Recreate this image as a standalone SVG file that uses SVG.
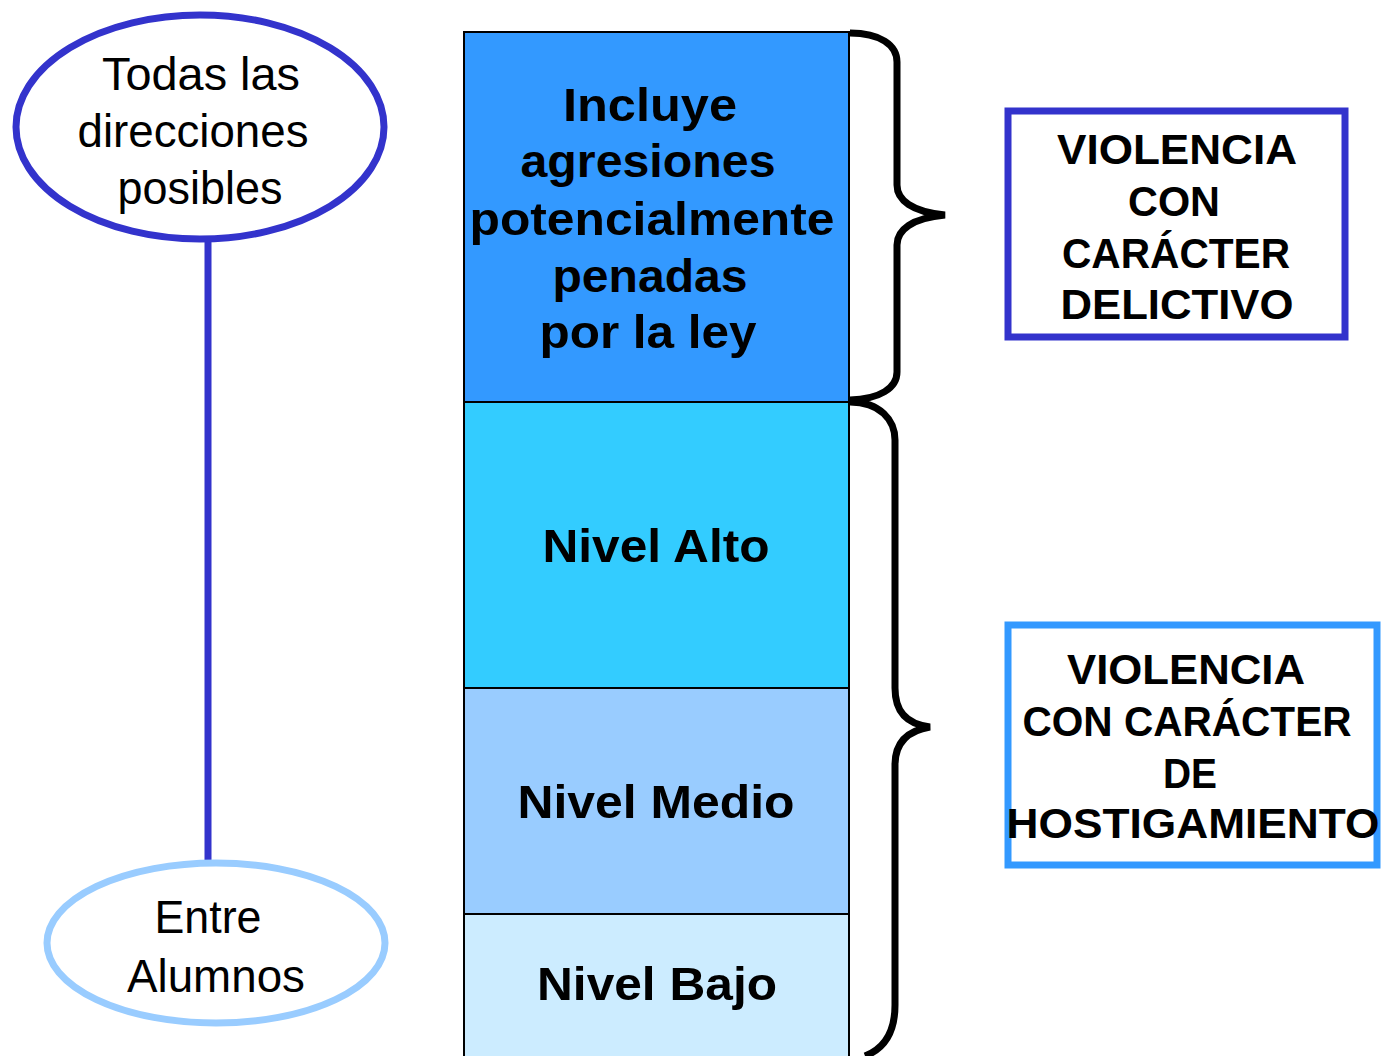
<svg xmlns="http://www.w3.org/2000/svg" width="1383" height="1056" viewBox="0 0 1383 1056">
<style>
.r{font-family:"Liberation Sans",Arial,sans-serif;font-size:46px;fill:#000;text-anchor:middle}
.b{font-family:"Liberation Sans",Arial,sans-serif;font-weight:bold;font-size:47px;fill:#000;text-anchor:middle}
.c{font-family:"Liberation Sans",Arial,sans-serif;font-weight:bold;font-size:42px;fill:#000;text-anchor:middle}
.lvl{stroke:#000;stroke-width:2}
.brace{fill:none;stroke:#000;stroke-width:7}
</style>
<rect width="1383" height="1056" fill="#fff"/>
<g id="connectors">
<line x1="208" y1="238" x2="208" y2="864" stroke="#3333CC" stroke-width="7"/>
<path class="brace" d="M 850 33 C 880 33, 897 45, 897 62 L 897 185 C 897 200, 912 212, 945 215 C 912 218, 897 230, 897 245 L 897 372 C 897 388, 880 399, 850 400"/>
<path class="brace" d="M 850 402 C 880 402, 895 420, 895 440 L 895 688 C 895 710, 905 724, 930 727 C 905 731, 895 745, 895 765 L 895 1005 C 895 1030, 886 1048, 865 1056"/>
</g>
<g id="node-todas">
<ellipse cx="200" cy="127" rx="184" ry="112" fill="#fff" stroke="#3333CC" stroke-width="7"/>
<text class="r" x="201" y="90" textLength="198" lengthAdjust="spacingAndGlyphs">Todas las</text>
<text class="r" x="193" y="147" textLength="231" lengthAdjust="spacingAndGlyphs">direcciones</text>
<text class="r" x="200" y="204" textLength="165" lengthAdjust="spacingAndGlyphs">posibles</text>
</g>
<g id="node-entre">
<ellipse cx="216" cy="943" rx="169" ry="80" fill="#fff" stroke="#99CCFF" stroke-width="7"/>
<text class="r" x="208" y="933" textLength="107" lengthAdjust="spacingAndGlyphs">Entre</text>
<text class="r" x="216" y="992" textLength="178" lengthAdjust="spacingAndGlyphs">Alumnos</text>
</g>
<g id="node-incluye">
<rect class="lvl" x="464" y="32" width="385" height="370" fill="#3399FF"/>
<text class="b" x="650" y="121" textLength="174" lengthAdjust="spacingAndGlyphs">Incluye</text>
<text class="b" x="648" y="177" textLength="255" lengthAdjust="spacingAndGlyphs">agresiones</text>
<text class="b" x="652" y="235" textLength="365" lengthAdjust="spacingAndGlyphs">potencialmente</text>
<text class="b" x="650" y="292" textLength="195" lengthAdjust="spacingAndGlyphs">penadas</text>
<text class="b" x="648" y="348" textLength="217" lengthAdjust="spacingAndGlyphs">por la ley</text>
</g>
<g id="node-alto">
<rect class="lvl" x="464" y="402" width="385" height="286" fill="#33CCFF"/>
<text class="b" x="656" y="562" textLength="227" lengthAdjust="spacingAndGlyphs">Nivel Alto</text>
</g>
<g id="node-medio">
<rect class="lvl" x="464" y="688" width="385" height="226" fill="#99CCFF"/>
<text class="b" x="656" y="818" textLength="277" lengthAdjust="spacingAndGlyphs">Nivel Medio</text>
</g>
<g id="node-bajo">
<rect class="lvl" x="464" y="914" width="385" height="150" fill="#CCECFF"/>
<text class="b" x="657" y="1000" textLength="240" lengthAdjust="spacingAndGlyphs">Nivel Bajo</text>
</g>
<g id="node-delictivo">
<rect x="1008" y="111" width="337" height="226" fill="#fff" stroke="#3333CC" stroke-width="7"/>
<text class="c" x="1177" y="164" textLength="240" lengthAdjust="spacingAndGlyphs">VIOLENCIA</text>
<text class="c" x="1174" y="216" textLength="92" lengthAdjust="spacingAndGlyphs">CON</text>
<text class="c" x="1176" y="268" textLength="228" lengthAdjust="spacingAndGlyphs">CARÁCTER</text>
<text class="c" x="1177" y="319" textLength="233" lengthAdjust="spacingAndGlyphs">DELICTIVO</text>
</g>
<g id="node-hostigamiento">
<rect x="1008" y="625" width="369" height="240" fill="#fff" stroke="#3399FF" stroke-width="7"/>
<text class="c" x="1186" y="684" textLength="238" lengthAdjust="spacingAndGlyphs">VIOLENCIA</text>
<text class="c" x="1187" y="736" textLength="329" lengthAdjust="spacingAndGlyphs">CON CARÁCTER</text>
<text class="c" x="1190" y="788" textLength="54" lengthAdjust="spacingAndGlyphs">DE</text>
<text class="c" x="1193" y="838" textLength="373" lengthAdjust="spacingAndGlyphs">HOSTIGAMIENTO</text>
</g>
</svg>
